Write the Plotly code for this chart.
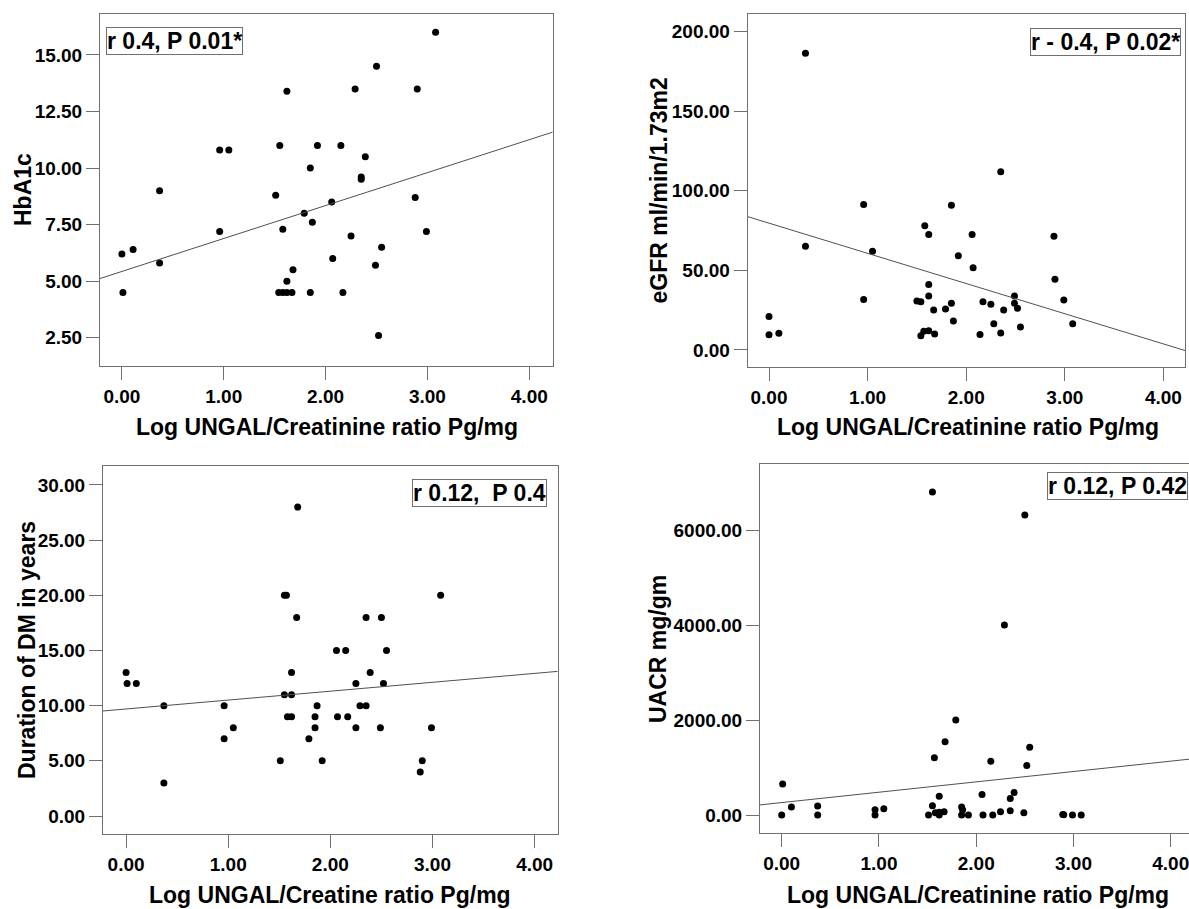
import plotly.graph_objects as go

# ---------------- data ----------------
ungal_hba1c = [3.08, 2.50, 2.29, 2.90, 1.62, 0.96, 1.05, 1.55, 1.92, 2.15, 2.39, 1.85, 2.35, 2.35,
               0.37, 1.51, 2.06, 2.88, 1.79, 1.87, 0.00, 0.11, 0.01, 0.37, 0.96, 1.58, 2.25, 2.55,
               2.07, 2.49, 1.68, 1.62, 1.54, 1.58, 1.62, 1.67, 1.85, 2.17, 2.52, 2.99]
hba1c = [16.0, 14.5, 13.5, 13.5, 13.4, 10.8, 10.8, 11.0, 11.0, 11.0, 10.5, 10.0, 9.6, 9.5,
         9.0, 8.8, 8.5, 8.7, 8.0, 7.6, 6.2, 6.4, 4.5, 5.8, 7.2, 7.3, 7.0, 6.5,
         6.0, 5.7, 5.5, 5.0, 4.5, 4.5, 4.5, 4.5, 4.5, 4.5, 2.6, 7.2]

ungal_egfr = [0.37, 2.35, 0.96, 1.85, 1.58, 1.62, 2.06, 2.89, 0.37, 1.05, 1.92, 2.07, 2.90, 1.62,
              1.62, 2.49, 0.96, 1.50, 1.54, 2.99, 2.17, 1.85, 2.49, 2.25, 2.52, 1.67, 1.79, 2.38,
              0.00, 1.87, 2.28, 3.08, 2.55, 0.00, 0.10, 1.57, 1.62, 1.54, 1.68, 2.14, 2.35]
egfr = [186.4, 112.0, 91.4, 91.0, 78.0, 72.6, 72.6, 71.5, 65.1, 62.1, 59.2, 51.7, 44.4, 41.2,
        33.9, 33.9, 31.8, 30.8, 30.3, 31.4, 30.3, 29.3, 29.3, 28.7, 26.2, 25.1, 25.7, 25.1,
        21.1, 18.2, 16.5, 16.5, 14.4, 9.6, 10.5, 11.7, 12.1, 9.0, 10.0, 9.8, 10.7]

ungal_duration = [1.68, 1.55, 1.57, 3.08, 1.67, 2.35, 2.50, 2.06, 2.15, 2.55, 0.00, 1.62, 2.39,
                  0.01, 0.10, 1.55, 1.62, 2.25, 2.52, 0.37, 0.96, 1.87, 2.29, 2.35, 1.58, 1.62,
                  1.85, 2.07, 2.17, 1.05, 1.85, 2.25, 2.49, 2.99, 0.96, 1.79, 1.51, 1.92, 2.90,
                  2.88, 0.37]
duration = [28, 20, 20, 20, 18, 18, 18, 15, 15, 15, 13, 13, 13,
            12, 12, 11, 11, 12, 12, 10, 10, 10, 10, 10, 9, 9,
            9, 9, 9, 8, 8, 8, 8, 8, 7, 7, 5, 5, 5,
            4, 3]

ungal_uacr = [1.55, 2.50, 2.29, 1.79, 1.68, 1.57, 2.55, 2.15, 2.52, 0.01, 2.06, 1.62, 2.39, 2.35,
              0.10, 0.37, 0.37, 0.00, 0.96, 0.96, 1.05, 1.55, 1.51, 1.58, 1.62, 1.67, 1.62,
              1.85, 1.86, 1.85, 1.92, 2.07, 2.17, 2.25, 2.35, 2.49, 2.89, 2.90, 2.99, 3.08]
uacr = [6800, 6317, 4000, 2000, 1542, 1204, 1429, 1134, 1042, 655, 430, 394, 472, 345,
        169, 190, 0, 0, 113, 0, 134, 197, 0, 50, 60, 70, 0,
        169, 113, 0, 0, 0, 0, 70, 92, 50, 10, 5, 0, 0]

# fitted regression lines (intercept, slope)
fit_intercepts = [5.43, 79.7, 9.70, 262.0]
fit_slopes = [1.456, -18.97, 0.806, 218.0]

x_titles = ["Log UNGAL/Creatinine ratio Pg/mg", "Log UNGAL/Creatinine ratio Pg/mg",
            "Log UNGAL/Creatine ratio Pg/mg", "Log UNGAL/Creatinine ratio Pg/mg"]
y_titles = ["HbA1c", "eGFR ml/min/1.73m2", "Duration of DM in years", "UACR mg/gm"]
stat_labels = ["r 0.4, P 0.01*", "r - 0.4, P 0.02*", "r 0.12,  P 0.4", "r 0.12, P 0.42"]

x_tickvals = [0, 1, 2, 3, 4]
y_tickvals = [[2.5, 5, 7.5, 10, 12.5, 15],
              [0, 50, 100, 150, 200],
              [0, 5, 10, 15, 20, 25, 30],
              [0, 2000, 4000, 6000]]

# ---------------- layout geometry ----------------
W, H = 1189, 909
def fx(p):
    return p / W
def fy(p):
    return 1 - p / H

boxes = [  # left, right, top, bottom in pixels
    (100, 552.7, 14, 366),
    (747.7, 1185.3, 14, 366.7),
    (103, 557.7, 466, 834),
    (760, 1189, 464.3, 833.3),
]
x_ranges = [[-0.215, 4.23], [-0.216, 4.222], [-0.226, 4.226], [-0.223, 4.188]]
y_ranges = [[1.25, 16.81], [-10.5, 211.1], [-1.63, 31.72], [-385, 7383]]

FONT = "Liberation Sans"
AXIS_COLOR = "#707070"

xs = [ungal_hba1c, ungal_egfr, ungal_duration, ungal_uacr]
ys = [hba1c, egfr, duration, uacr]

fig = go.Figure()
layout = dict(
    width=W, height=H,
    margin=dict(l=0, r=0, t=0, b=0),
    paper_bgcolor="white", plot_bgcolor="white",
    showlegend=False,
    annotations=[],
)

for i in range(4):
    n = "" if i == 0 else str(i + 1)
    xa, ya = "x" + n, "y" + n
    fig.add_trace(go.Scatter(x=xs[i], y=ys[i], mode="markers", xaxis=xa, yaxis=ya,
                             marker=dict(color="black", size=7, line=dict(width=0))))
    lx = x_ranges[i]
    ly = [fit_intercepts[i] + fit_slopes[i] * v for v in lx]
    fig.add_trace(go.Scatter(x=lx, y=ly, mode="lines", xaxis=xa, yaxis=ya,
                             line=dict(color="#505050", width=1)))
    l, r, t, b = boxes[i]
    layout["xaxis" + n] = dict(
        domain=[fx(l), min(fx(r), 1.0)], range=x_ranges[i], anchor=ya,
        tickvals=x_tickvals, tickformat=".2f", ticklabeloverflow="allow",
        showline=True, linecolor=AXIS_COLOR, linewidth=1, mirror=True,
        ticks="outside", ticklen=13, tickcolor=AXIS_COLOR, tickwidth=1,
        showgrid=False, zeroline=False,
        tickfont=dict(family=FONT, size=19, color="black", weight="bold"),
    )
    layout["yaxis" + n] = dict(
        domain=[fy(b), fy(t)], range=y_ranges[i], anchor=xa,
        tickvals=y_tickvals[i], tickformat=".2f", ticklabeloverflow="allow",
        showline=True, linecolor=AXIS_COLOR, linewidth=1, mirror=(i != 3),
        ticks="outside", ticklen=13, tickcolor=AXIS_COLOR, tickwidth=1,
        showgrid=False, zeroline=False,
        tickfont=dict(family=FONT, size=19, color="black", weight="bold"),
    )

title_font = dict(family=FONT, size=23, color="black", weight="bold")
# x axis titles (pixel centres)
xt_pos = [(326.5, 426.7), (968, 426.7), (330, 895), (977.5, 895)]
# y axis titles (pixel centres)
yt_pos = [(23, 190), (658.5, 191), (27, 650), (658, 649)]
for i in range(4):
    layout["annotations"].append(dict(
        text=x_titles[i], x=fx(xt_pos[i][0]), y=fy(xt_pos[i][1]), xref="paper", yref="paper",
        xanchor="center", yanchor="middle", showarrow=False, font=title_font))
    layout["annotations"].append(dict(
        text=y_titles[i], x=fx(yt_pos[i][0]), y=fy(yt_pos[i][1]), xref="paper", yref="paper",
        xanchor="center", yanchor="middle", showarrow=False, textangle=-90, font=title_font))

# stat label boxes: (anchor x px, anchor, top px)
stat_pos = [(105.8, "left", 26.7), (1181, "right", 28), (547.3, "right", 478.7), (1188, "right", 472.3)]
for i in range(4):
    ax, anc, top = stat_pos[i]
    layout["annotations"].append(dict(
        text=stat_labels[i], x=fx(ax), y=fy(top), xref="paper", yref="paper",
        xanchor=anc, yanchor="top", showarrow=False,
        font=dict(family=FONT, size=23, color="black", weight="bold"),
        bordercolor=AXIS_COLOR, borderwidth=1, borderpad=0, bgcolor="white"))

fig.update_layout(**layout)
fig.write_html("out.html", config={"displayModeBar": False},
               post_script="document.body.style.margin='0';document.body.style.overflow='hidden';")
